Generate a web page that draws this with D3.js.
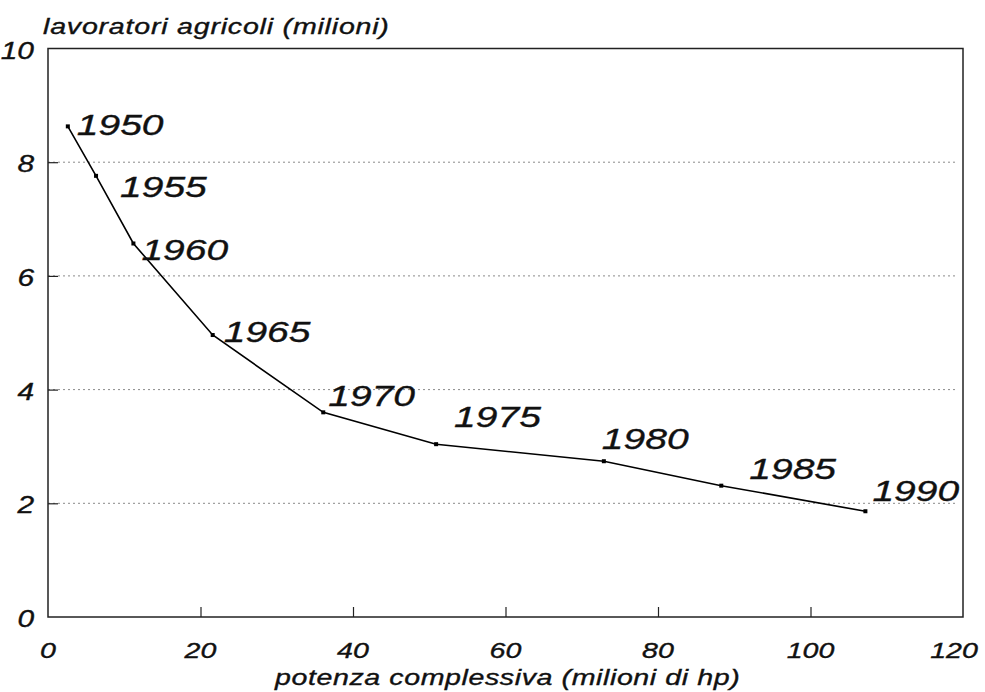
<!DOCTYPE html>
<html>
<head>
<meta charset="utf-8">
<script src="https://cdn.jsdelivr.net/npm/d3@7"></script>
<style>
  html, body { margin: 0; padding: 0; background: #fff; }
  svg { display: block; }
  text { font-family: "Liberation Sans", Arial, sans-serif; font-style: italic; fill: #111; stroke: #111; stroke-width: 0.35px; }
</style>
</head>
<body>
<svg id="chart" width="985" height="692"></svg>
<script>
// ---- data ----
const years = ["1950", "1955", "1960", "1965", "1970", "1975", "1980", "1985", "1990"];
const power = [2.6, 6.3, 11.2, 21.6, 36.1, 50.9, 72.9, 88.3, 107.2];      // milioni di hp
const workers = [8.63, 7.76, 6.57, 4.96, 3.60, 3.04, 2.74, 2.31, 1.86];    // milioni
const xTicks = [0, 20, 40, 60, 80, 100, 120];
const yTicks = [0, 2, 4, 6, 8, 10];
const yTitle = "lavoratori agricoli (milioni)";
const xTitle = "potenza complessiva (milioni di hp)";

// ---- layout (label offsets in px, relative to each point) ----
const labelDx = [9, 24, 8, 11, 5, 18, -2, 28, 7];
const labelDy = [9, 21, 17, 7, -6, -17, -12, -7, -10];

const SX = 1.3; // horizontal stretch of the wide typeface
const svg = d3.select("#chart");
const mLeft = 48, mRight = 963, mTop = 48.5, mBottom = 617;

const x = d3.scaleLinear().domain([0, 120]).range([mLeft, mRight]);
const y = d3.scaleLinear().domain([0, 10]).range([mBottom, mTop]);

const place = (px, py) => `translate(${px},${py}) scale(${SX},1)`;

// gridlines (dotted)
svg.append("g").selectAll("line")
  .data(yTicks.filter(d => d > 0 && d < 10))
  .join("line")
  .attr("x1", mLeft).attr("x2", mRight - 8)
  .attr("y1", d => y(d)).attr("y2", d => y(d))
  .attr("stroke", "#8a8a8a").attr("stroke-width", 1)
  .attr("stroke-dasharray", "2,3");

// frame
svg.append("rect")
  .attr("x", mLeft).attr("y", mTop)
  .attr("width", mRight - mLeft).attr("height", mBottom - mTop)
  .attr("fill", "none").attr("stroke", "#222").attr("stroke-width", 1.5);

// axes via d3 (inward ticks, no domain)
const xAxis = d3.axisBottom(x).tickValues(xTicks.filter(d => d > 0 && d < 120))
  .tickSize(-10).tickFormat("");
const gx = svg.append("g").attr("transform", `translate(0,${mBottom})`).call(xAxis);
gx.select(".domain").remove();
gx.selectAll("line").attr("stroke", "#222").attr("stroke-width", 1.2);

const yAxis = d3.axisLeft(y).tickValues(yTicks.filter(d => d > 0 && d < 10))
  .tickSize(-10).tickFormat("");
const gy = svg.append("g").attr("transform", `translate(${mLeft},0)`).call(yAxis);
gy.select(".domain").remove();
gy.selectAll("line").attr("stroke", "#222").attr("stroke-width", 1.2);

// tick labels
svg.append("g").selectAll("text")
  .data(xTicks).join("text")
  .attr("transform", d => place(x(d) - (d === 120 ? 9 : 0), 658))
  .attr("text-anchor", "middle")
  .style("font-size", "22px")
  .text(d => d);

svg.append("g").selectAll("text")
  .data(yTicks).join("text")
  .attr("transform", d => place(34, y(d) + 10))
  .attr("text-anchor", "end")
  .style("font-size", "23px")
  .text(d => d);

// axis titles
svg.append("text")
  .attr("transform", place(43, 34))
  .style("font-size", "22px")
  .style("letter-spacing", "0.6px")
  .text(yTitle);

svg.append("text")
  .attr("transform", place(275, 685))
  .style("font-size", "22px")
  .style("letter-spacing", "0.45px")
  .text(xTitle);

// data line
const pts = years.map((yr, i) => ({ year: yr, px: power[i], wk: workers[i], dx: labelDx[i], dy: labelDy[i] }));

const line = d3.line().x(d => x(d.px)).y(d => y(d.wk));
svg.append("path")
  .datum(pts)
  .attr("d", line)
  .attr("fill", "none")
  .attr("stroke", "#000")
  .attr("stroke-width", 1.6);

svg.append("g").selectAll("rect")
  .data(pts).join("rect")
  .attr("x", d => x(d.px) - 2)
  .attr("y", d => y(d.wk) - 2)
  .attr("width", 4).attr("height", 4)
  .attr("fill", "#000");

svg.append("g").selectAll("text")
  .data(pts).join("text")
  .attr("transform", d => place(x(d.px) + d.dx, y(d.wk) + d.dy))
  .style("font-size", "30px")
  .text(d => d.year);
</script>
</body>
</html>
